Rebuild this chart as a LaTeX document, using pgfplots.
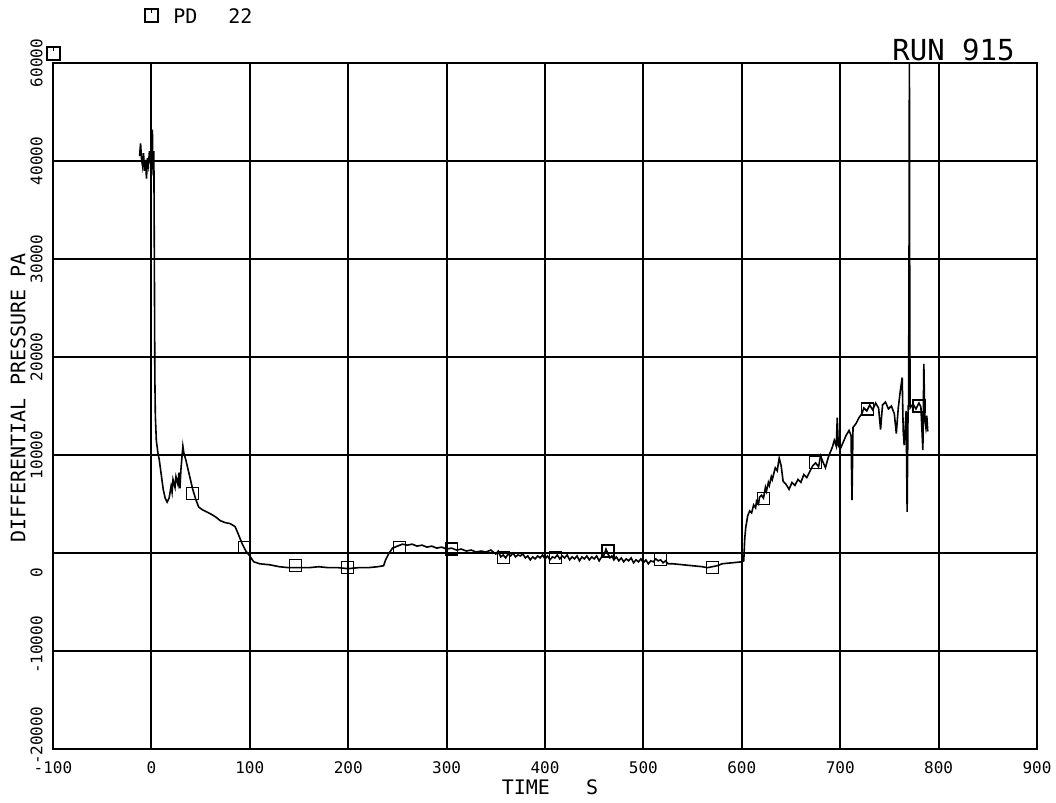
\documentclass[border=0pt]{standalone}
\usepackage{pgfplots}
\pgfplotsset{compat=1.18}
\usepackage{fontspec}
\setmainfont{DejaVu Sans Mono}
\begin{document}
\begin{tikzpicture}
\path[use as bounding box] (-26.5pt,-27pt) rectangle (501.5pt,374.5pt);
\begin{axis}[
 name=ax, at={(0,0)}, anchor=south west,
 scale only axis, width=492pt, height=343pt,
 xmin=-100, xmax=900, ymin=-20000, ymax=50000,
 xtick={-100,0,100,200,300,400,500,600,700,800,900},
 xticklabels={-100,0,100,200,300,400,500,600,700,800,900},
 ytick={-20000,-10000,0,10000,20000,30000,40000,50000},
 yticklabels={{\hspace*{13pt}-20000},{\hspace*{6pt}-10000},{},10000,20000,30000,40000,60000},
 extra y ticks={-2000}, extra y tick labels={0},
 extra y tick style={grid=none},
 scaled ticks=false,
 grid=major, major grid style={black, line width=1pt},
 axis line style={black, line width=1pt},
 major tick length=0pt,
 tick label style={font=\fontsize{8}{9}\selectfont, inner sep=0pt},
 xticklabel style={anchor=north},
 xticklabel shift=6pt,
 yticklabel style={rotate=90, anchor=south},
 yticklabel shift=5pt,
]
\addplot[black, line width=0.8pt] coordinates {
(-12,40500) (-11,41800) (-10,40200) (-9,39500) (-8,40800) (-7,39000) (-6,40100)
(-5,38200) (-4,40300) (-3,39600) (-2,41000) (-1,39800) (0,42500) (0.5,40000)
(1,43200) (1.5,39500) (2,38500) (2.5,41000) (3,30000) (3.5,18000) (4,14000)
(5,11500) (6.5,10300) (8,9500) (10,8000) (12,6500) (14,5600) (16,5200) (18,5600)
(20,6800) (21,6200) (22,7500) (24,6700) (25,7800) (27,7000) (28,8200) (29,6600)
(30,8500) (32,10900) (33,10200) (35,9500) (38,8200) (42,6500) (45,5500) (48,4700)
(52,4400) (56,4200) (60,4000) (65,3700) (70,3300) (75,3100) (80,3000) (85,2700)
(88,2000) (92,1000) (96,200) (100,-300) (104,-900) (110,-1100) (120,-1200)
(130,-1400) (140,-1500) (150,-1500) (160,-1500) (170,-1400) (180,-1500)
(190,-1500) (200,-1600) (210,-1500) (220,-1500) (230,-1400) (236,-1300)
(238,-700) (241,-100) (245,500) (250,700) (255,900) (260,800) (265,900)
(270,700) (275,800) (280,600) (285,700) (290,500) (295,600) (300,400)
(305,500) (310,300) (315,400) (320,200) (325,300) (330,100) (335,200)
(340,100) (345,300)
(350,-100) (352.5,200) (355,-400) (357.5,-200) (360,-500) (362.5,-100)
(365,-300) (367.5,0) (370,-400) (372.5,-200) (375,-300) (377.5,-100)
(380,-500) (382.5,-300) (385,-700) (387.5,-400) (390,-600) (392.5,-300)
(395,-500) (397.5,-200) (400,-600) (402.5,-300) (405,-700) (407.5,-400)
(410,-500) (412.5,-200) (415,-600) (417.5,-300) (420,-500) (422.5,-200)
(425,-700) (427.5,-400) (430,-600) (432.5,-300) (435,-800) (437.5,-400)
(440,-600) (442.5,-300) (445,-700) (447.5,-400) (450,-600) (452.5,-300)
(455,-800) (457.5,-400) (460,-200) (462,400) (464,-100) (466,-500)
(468,-300) (470,-700) (472.5,-400) (475,-800) (477.5,-500) (480,-900)
(482.5,-600) (485,-800) (487.5,-500) (490,-1000) (492.5,-700) (495,-900)
(497.5,-600) (500,-1000) (502.5,-700) (505,-1100) (507.5,-800) (510,-900)
(512.5,-600) (515,-800) (517.5,-700) (520,-1000) (522.5,-800) (525,-1100)
(530,-1100) (540,-1200) (550,-1300)
(560,-1400) (565,-1500) (570,-1400) (575,-1300) (580,-1100) (590,-1000)
(600,-900) (602,-800) (603,1500) (604,2600) (606,3800) (608,4300) (610,4100)
(612,4900) (614,4600) (615,5300) (617,5000) (618,5700) (620,5900) (622,5600)
(624,6700) (625,6300) (627,7200) (628,6900) (630,7800) (631,7500)
(634,8700) (636,8400) (638,9700) (640,8900) (642,7300) (645,7000) (648,6500)
(651,7200) (654,6900) (657,7500) (660,7200) (663,8000) (666,7700) (669,8300)
(672,8900) (675,9200) (678,8800) (680,9900) (682,9400) (685,8700) (688,9800)
(690,10300) (692,10800) (694,11500) (696,10900) (697,13800) (698,11000)
(700,10600) (703,11300) (706,12000) (709,12500) (711,12000) (712,5400)
(713,12800) (716,13200) (719,13800) (722,14200) (724,14800) (727,14500)
(730,15100) (733,14600) (736,15300) (739,14800) (741,12600) (743,15100)
(746,15400) (749,14700) (752,15000) (755,14200) (757,12200) (759,14800)
(761,16500) (763,17900) (764,12500) (765,11000) (767,14500) (768,4200)
(769,15000) (769.5,15000) (770,33000) (770.3,52000) (770.6,30000) (771,14800)
(774,15200) (777,14700) (780,15300) (782,14900) (784,10500) (785,19300)
(786,13500) (787,12800) (788,14000) (789,12400)
};
\addplot[only marks, mark=square, mark size=3pt, mark options={black, line width=0.6pt}] coordinates {
(41.6,6100) (94.7,600) (146.6,-1300) (199.5,-1500) (252,600) (305,400)
(358,-500) (411,-500) (464,200) (517,-700) (570,-1500) (622,5600)
(675,9200) (728,14700) (780,15000)
};
\end{axis}
\node[font=\fontsize{10}{12}\selectfont] at ([xshift=2.5pt, yshift=-19pt]ax.south) {TIME\ \ \ S};
\node[rotate=90, font=\fontsize{10}{12}\selectfont] at ([xshift=-17.5pt, yshift=4pt]ax.west) {DIFFERENTIAL PRESSURE PA};
\node[anchor=base east, inner sep=0pt, font=\fontsize{14.5}{16}\selectfont] at ([xshift=-11pt, yshift=1.5pt]ax.north east) {RUN 915};
\node[anchor=base west, inner sep=0pt, font=\fontsize{10}{12}\selectfont] at ([xshift=60pt, yshift=20pt]ax.north west) {PD};
\node[anchor=base west, inner sep=0pt, font=\fontsize{10}{12}\selectfont] at ([xshift=87.5pt, yshift=20pt]ax.north west) {22};
\draw[line width=0.6pt] ([xshift=46pt, yshift=20.5pt]ax.north west) rectangle ([xshift=52.5pt, yshift=27pt]ax.north west);
\draw[line width=0.6pt] ([xshift=49.25pt, yshift=27pt]ax.north west) -- ([xshift=49.25pt, yshift=25pt]ax.north west);
\draw[line width=0.6pt] ([xshift=-3pt, yshift=1.5pt]ax.north west) rectangle ([xshift=3.5pt, yshift=8pt]ax.north west);
\draw[line width=0.6pt] ([xshift=0.25pt, yshift=8pt]ax.north west) -- ([xshift=0.25pt, yshift=6pt]ax.north west);
\end{tikzpicture}
\end{document}
